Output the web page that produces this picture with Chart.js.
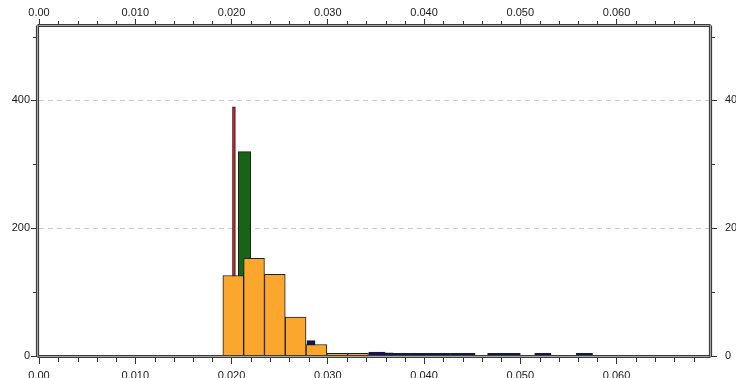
<!DOCTYPE html>
<html>
<head>
<meta charset="utf-8">
<script src="https://cdn.jsdelivr.net/npm/chart.js@4/dist/chart.umd.min.js"></script>
<style>
  html, body { margin: 0; padding: 0; background: #fff; }
  #wrap { width: 736px; height: 378px; position: relative; }
</style>
</head>
<body>
<div id="wrap"><canvas id="c" width="736" height="378"></canvas></div>
<script>
// Histogram series: left edge of each bin, bin width and the count in each bin
const orangeBinWidth = 0.00216;
const orangeBinStarts = [0.01910, 0.02126, 0.02342, 0.02558, 0.02774, 0.02990, 0.03206];
const orangeCounts = [126, 153, 128, 61, 18, 4, 4];

const navyBinWidth = 0.00085;
const navyBinStarts = [0.02783, 0.03425, 0.03510, 0.03595,
                       0.03680, 0.03765, 0.03850, 0.03935, 0.04020, 0.04105, 0.04190, 0.04275,
                       0.04360, 0.04445, 0.04660, 0.04745, 0.04830, 0.04915,
                       0.05150, 0.05235, 0.05580, 0.05665];
const navyCounts = [24, 6, 6, 5,
                    4, 4, 4, 4, 4, 4, 4, 4,
                    4, 4, 4, 4, 4, 4,
                    4, 4, 4, 4];

const greenBinWidth = 0.0013;
const greenBinStarts = [0.0207];
const greenCounts = [320];

const redBinWidth = 0.0003;
const redBinStarts = [0.0201];
const redCounts = [390];

// Axis ranges and tick spacing
const xMin = 0, xMax = 0.0696;
const xTickStep = 0.002, xLabelStep = 0.01;
const yMin = 0, yMax = 515;
const yTickStep = 100, yLabelStep = 200;
const yGridValues = [200, 400];

const FONT = { family: "'Liberation Sans', Arial, sans-serif", size: 11 };
const TEXT = '#1a1a1a';
const TICK = '#333333';

function binPoints(starts, width, counts) {
  return starts.map((s, i) => ({ x: s + width / 2, y: counts[i] }));
}

function isXMajor(v) {
  return Math.abs(v / xLabelStep - Math.round(v / xLabelStep)) < 1e-6;
}
function isYMajor(v) {
  return Math.abs(v % yLabelStep) < 1e-6;
}
function xLabel(v) {
  if (!isXMajor(v)) return '';
  return Math.abs(v) < 1e-12 ? '0.00' : v.toFixed(3);
}
function yLabel(v) {
  return isYMajor(v) ? String(v) : '';
}

function xScale(position, height, padding) {
  return {
    type: 'linear', position, min: xMin, max: xMax, offset: false,
    grid: {
      display: true, drawOnChartArea: false, offset: false, tickLength: 8, tickWidth: 1,
      tickColor: c => (c.tick && isXMajor(c.tick.value)) ? TICK : 'rgba(0,0,0,0)'
    },
    border: { display: false },
    ticks: {
      stepSize: xTickStep, autoSkip: false, includeBounds: false, maxRotation: 0,
      padding, color: TEXT, font: FONT, callback: v => xLabel(v)
    },
    afterFit: s => { s.height = height; }
  };
}

function yScale(position, width, padding, drawGrid) {
  return {
    type: 'linear', position, min: yMin, max: yMax,
    grid: {
      display: true, drawOnChartArea: drawGrid, tickLength: 8, tickWidth: 1, lineWidth: 1,
      color: c => (c.tick && yGridValues.includes(c.tick.value)) ? '#c9c9c9' : 'rgba(0,0,0,0)',
      tickColor: c => (c.tick && isYMajor(c.tick.value)) ? TICK : 'rgba(0,0,0,0)'
    },
    border: { display: false, dash: [5, 4] },
    ticks: {
      stepSize: yTickStep, autoSkip: false, includeBounds: false,
      padding, color: TEXT, font: FONT, callback: v => yLabel(v)
    },
    afterFit: s => { s.width = width; }
  };
}

// Minor tick marks and the double-ruled frame around the plot
const axisFrame = {
  id: 'axisFrame',
  afterDraw(chart) {
    const { ctx, chartArea: a, scales } = chart;
    ctx.save();
    ctx.strokeStyle = TICK;
    ctx.lineWidth = 1;
    const minorLen = 6;
    ctx.beginPath();
    scales.x.ticks.forEach(t => {
      if (isXMajor(t.value)) return;
      const p = Math.round(scales.x.getPixelForValue(t.value)) + 0.5;
      ctx.moveTo(p, a.bottom); ctx.lineTo(p, a.bottom + minorLen);
      ctx.moveTo(p, a.top); ctx.lineTo(p, a.top - minorLen);
    });
    scales.y.ticks.forEach(t => {
      if (isYMajor(t.value)) return;
      const p = Math.round(scales.y.getPixelForValue(t.value)) + 0.5;
      ctx.moveTo(a.left, p); ctx.lineTo(a.left - minorLen, p);
      ctx.moveTo(a.right, p); ctx.lineTo(a.right + minorLen, p);
    });
    ctx.stroke();

    const rule = (x1, y1, x2, y2) => {
      ctx.beginPath(); ctx.moveTo(x1, y1); ctx.lineTo(x2, y2);
      ctx.lineWidth = 3.2; ctx.strokeStyle = '#3c3c3c'; ctx.stroke();
      ctx.beginPath(); ctx.moveTo(x1, y1); ctx.lineTo(x2, y2);
      ctx.lineWidth = 1; ctx.strokeStyle = '#a8a8a8'; ctx.stroke();
    };
    const L = a.left - 1.5, R = a.right + 1.5, T = a.top - 1.5, B = a.bottom + 0.5;
    rule(L, T, R, T);
    rule(L, B, R, B);
    rule(L, T, L, B);
    rule(R, T, R, B);
    ctx.restore();
  }
};

const BORDER = '#1c1c1c';
const chart = new Chart(document.getElementById('c'), {
  type: 'bar',
  data: {
    datasets: [
      { label: 'orange', binWidth: orangeBinWidth, data: binPoints(orangeBinStarts, orangeBinWidth, orangeCounts),
        backgroundColor: '#fba62c', borderColor: BORDER, borderWidth: 1 },
      { label: 'navy', binWidth: navyBinWidth, data: binPoints(navyBinStarts, navyBinWidth, navyCounts),
        backgroundColor: '#12126a', borderColor: BORDER, borderWidth: 1 },
      { label: 'green', binWidth: greenBinWidth, data: binPoints(greenBinStarts, greenBinWidth, greenCounts),
        backgroundColor: '#176417', borderColor: BORDER, borderWidth: 1 },
      { label: 'red', binWidth: redBinWidth, data: binPoints(redBinStarts, redBinWidth, redCounts),
        backgroundColor: '#e3161c', borderColor: BORDER, borderWidth: 1 }
    ]
  },
  options: {
    responsive: false,
    animation: false,
    grouped: false,
    barThickness: 1,
    layout: { padding: 0 },
    plugins: { legend: { display: false }, tooltip: { enabled: false } },
    scales: {
      x: xScale('bottom', 22, 5),
      xTop: xScale('top', 27, -1),
      y: yScale('left', 39, 1, true),
      yRight: yScale('right', 27, 8, false)
    }
  },
  plugins: [axisFrame]
});

// Each series has its own bin width: size the bars from the x scale
function applyBinWidths(c) {
  const sx = c.scales.x;
  c.data.datasets.forEach(ds => {
    ds.barThickness = Math.abs(sx.getPixelForValue(ds.binWidth) - sx.getPixelForValue(0));
  });
  c.update('none');
}
applyBinWidths(chart);
</script>
</body>
</html>
